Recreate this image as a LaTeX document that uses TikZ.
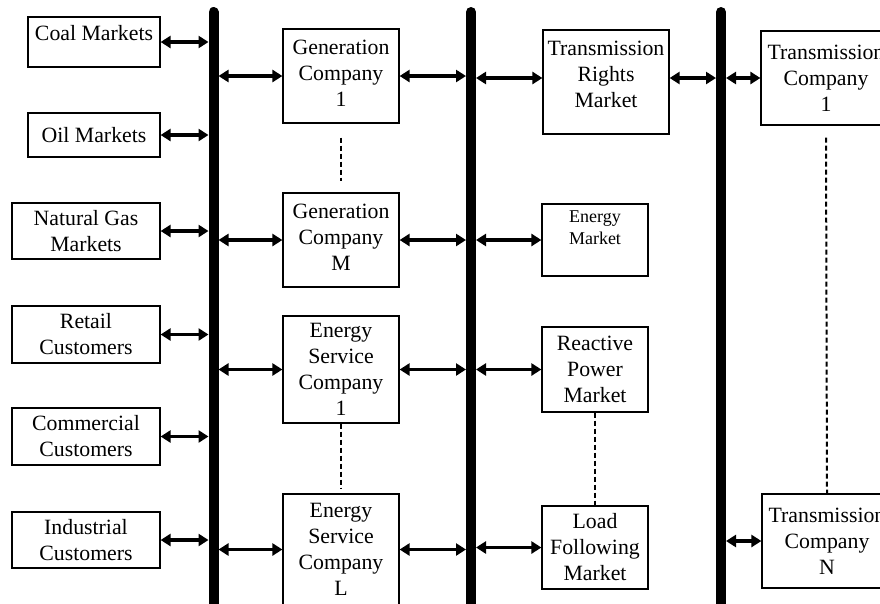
\documentclass[tikz,border=0pt]{standalone}
\usepackage{fontspec}
\setmainfont{Liberation Serif}
\usetikzlibrary{arrows.meta}
\tikzset{
    entity/.style={
    rectangle,draw=black,line width=1.2pt,inner sep=0pt,align=center,
    font=\fontsize{21.8}{26}\selectfont
    },
    smallentity/.style={
    entity,font=\fontsize{18}{22}\selectfont
    },
    busbar/.style={
    line width=10pt,line cap=round
    },
    link/.style={
    line width=3.2pt,{Triangle[length=10pt,width=12pt]}-{Triangle[length=10pt,width=12pt]}
    },
    tobus/.style={link,shorten >=5pt},
    frombus/.style={link,shorten <=5pt},
    ellipsis/.style={
    line width=2pt,dash pattern=on 5pt off 3pt
    },
}
\begin{document}
\begin{tikzpicture}[x=1pt,y=-1pt]
  \useasboundingbox (0,0) rectangle (880,603);
  \clip (0,0) rectangle (880,603);

  % buses
  \coordinate (b1top) at (213.5,12);
  \coordinate (b1end) at (213.5,640);
  \coordinate (b2top) at (471,12);
  \coordinate (b2end) at (471,640);
  \coordinate (b3top) at (721,12);
  \coordinate (b3end) at (721,640);
  \draw[busbar] (b1top) -- (b1end);
  \draw[busbar] (b2top) -- (b2end);
  \draw[busbar] (b3top) -- (b3end);

  % fuel markets and customers
  \node[entity,minimum width=132,minimum height=50] (coal) at (94,42) {Coal Markets\\[-8pt]\mbox{}};
  \node[entity,minimum width=132,minimum height=44] (oil) at (94,135) {Oil Markets};
  \node[entity,minimum width=148,minimum height=56] (gas) at (86,231) {Natural Gas\\Markets};
  \node[entity,minimum width=148,minimum height=57] (retail) at (86,334.5) {Retail\\Customers};
  \node[entity,minimum width=148,minimum height=57] (commercial) at (86,436.5) {Commercial\\Customers};
  \node[entity,minimum width=148,minimum height=56] (industrial) at (86,540) {Industrial\\Customers};

  % companies
  \node[entity,minimum width=116,minimum height=94] (gen1) at (341,76) {Generation\\Company\\1\\[-20pt]\mbox{}};
  \node[entity,minimum width=116,minimum height=94] (genM) at (341,240) {Generation\\Company\\M\\[-20pt]\mbox{}};
  \node[entity,minimum width=116,minimum height=107] (esc1) at (341,369.5) {Energy\\Service\\Company\\1};
  \node[entity,minimum width=116,minimum height=111] (escL) at (341,549.5) {Energy\\Service\\Company\\L};

  % markets
  \node[entity,minimum width=126,minimum height=104] (trm) at (606,82) {Transmission\\Rights\\Market\\[-10pt]\mbox{}};
  \node[smallentity,minimum width=106,minimum height=72] (em) at (595,240) {Energy\\Market\\[2pt]\mbox{}};
  \node[entity,minimum width=106,minimum height=85] (rpm) at (595,369.5) {Reactive\\Power\\Market};
  \node[entity,minimum width=106,minimum height=83] (lfm) at (595,547.5) {Load\\Following\\Market};

  % transmission companies
  \node[entity,minimum width=130,minimum height=94] (tc1) at (826,78) {Transmission\\Company\\1};
  \node[entity,minimum width=130,minimum height=94] (tcN) at (827,541) {Transmission\\Company\\N};

  \coordinate (trmW) at ([yshift=4pt]trm.west);
  \coordinate (trmE) at ([yshift=4pt]trm.east);

  \foreach \n in {coal,oil,gas,retail,commercial,industrial}
    \draw[tobus] (\n.east) -- (\n.east -| b1top);
  \foreach \n in {gen1,genM,esc1,escL} {
    \draw[frombus] (b1top |- \n.west) -- (\n.west);
    \draw[tobus] (\n.east) -- (\n.east -| b2top);
  }
  \draw[frombus] (b2top |- trmW) -- (trmW);
  \foreach \n in {em,rpm,lfm}
    \draw[frombus] (b2top |- \n.west) -- (\n.west);
  \draw[tobus] (trmE) -- (trmE -| b3top);
  \draw[frombus] (b3top |- tc1.west) -- (tc1.west);
  \draw[frombus] (b3top |- tcN.west) -- (tcN.west);

  \draw[ellipsis] ([yshift=-14pt]gen1.south) -- ([yshift=11pt]genM.north);
  \draw[ellipsis] (esc1.south) -- ([yshift=4pt]escL.north);
  \draw[ellipsis] (rpm.south) -- (lfm.north);
  \draw[ellipsis] ([yshift=-12pt]tc1.south) -- (tcN.north);
\end{tikzpicture}
\end{document}
